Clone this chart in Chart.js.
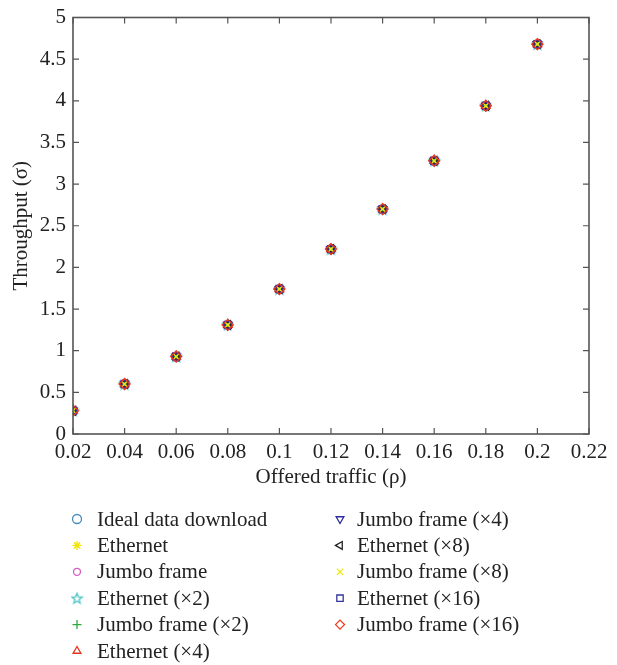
<!DOCTYPE html>
<html>
<head>
<meta charset="utf-8">
<script src="https://cdn.jsdelivr.net/npm/chart.js@4/dist/chart.umd.min.js"></script>
<style>
  html, body { margin: 0; padding: 0; background: #fff; }
  #wrap { width: 617px; height: 665px; }
</style>
</head>
<body>
<div id="wrap"><canvas id="throughput"></canvas></div>
<script>
// offered traffic (x)
const offeredTraffic = [0.02, 0.04, 0.06, 0.08, 0.1, 0.12, 0.14, 0.16, 0.18, 0.2];

// throughput per scheme, all curves sit on top of each other
const idealDownload  = [0.28, 0.60, 0.93, 1.31, 1.74, 2.22, 2.70, 3.28, 3.94, 4.68];
const ethernet       = [0.28, 0.60, 0.93, 1.31, 1.74, 2.22, 2.70, 3.28, 3.94, 4.68];
const jumbo          = [0.28, 0.60, 0.93, 1.31, 1.74, 2.22, 2.70, 3.28, 3.94, 4.68];
const ethernetX2     = [0.28, 0.60, 0.93, 1.31, 1.74, 2.22, 2.70, 3.28, 3.94, 4.68];
const jumboX2        = [0.28, 0.60, 0.93, 1.31, 1.74, 2.22, 2.70, 3.28, 3.94, 4.68];
const ethernetX4     = [0.28, 0.60, 0.93, 1.31, 1.74, 2.22, 2.70, 3.28, 3.94, 4.68];
const jumboX4        = [0.28, 0.60, 0.93, 1.31, 1.74, 2.22, 2.70, 3.28, 3.94, 4.68];
const ethernetX8     = [0.28, 0.60, 0.93, 1.31, 1.74, 2.22, 2.70, 3.28, 3.94, 4.68];
const jumboX8        = [0.28, 0.60, 0.93, 1.31, 1.74, 2.22, 2.70, 3.28, 3.94, 4.68];
const ethernetX16    = [0.28, 0.60, 0.93, 1.31, 1.74, 2.22, 2.70, 3.28, 3.94, 4.68];
const jumboX16       = [0.28, 0.60, 0.93, 1.31, 1.74, 2.22, 2.70, 3.28, 3.94, 4.68];

const seriesLabels = [
  'Ideal data download', 'Ethernet', 'Jumbo frame', 'Ethernet (\u00d72)',
  'Jumbo frame (\u00d72)', 'Ethernet (\u00d74)', 'Jumbo frame (\u00d74)', 'Ethernet (\u00d78)',
  'Jumbo frame (\u00d78)', 'Ethernet (\u00d716)', 'Jumbo frame (\u00d716)'
];
const seriesValues = [idealDownload, ethernet, jumbo, ethernetX2, jumboX2, ethernetX4,
  jumboX4, ethernetX8, jumboX8, ethernetX16, jumboX16];

const xTicks = { min: 0.02, max: 0.22, step: 0.02 };
const yTicks = { min: 0, max: 5, step: 0.5 };

const FONT = '"Liberation Serif", "Times New Roman", serif';
const FSIZE = 21;
const AXIS = '#555';

// five pointed star, chart.js has none
function pentagram(color) {
  const c = document.createElement('canvas');
  c.width = 13; c.height = 13;
  const g = c.getContext('2d');
  g.strokeStyle = color;
  g.lineWidth = 1.2;
  g.beginPath();
  for (let i = 0; i < 10; i++) {
    const r = i % 2 === 0 ? 5.5 : 2.3;
    const a = -Math.PI / 2 + i * Math.PI / 5;
    const px = 6.5 + r * Math.cos(a), py = 7 + r * Math.sin(a);
    if (i === 0) g.moveTo(px, py); else g.lineTo(px, py);
  }
  g.closePath();
  g.stroke();
  return c;
}

const styles = [
  { color: '#4a8bbd', style: 'circle', radius: 4.5 },
  { color: '#f2e400', style: 'star', radius: 5 },
  { color: '#d35fc4', style: 'circle', radius: 3.5 },
  { color: '#3fc0c4', style: pentagram('#3fc0c4'), radius: 5 },
  { color: '#2ea83a', style: 'cross', radius: 5 },
  { color: '#e8331c', style: 'triangle', radius: 5 },
  { color: '#2c2c9c', style: 'triangle', radius: 5, rotation: 180 },
  { color: '#222222', style: 'triangle', radius: 5, rotation: 270 },
  { color: '#eeea10', style: 'crossRot', radius: 4.5 },
  { color: '#34349a', style: 'rect', radius: 5 },
  { color: '#f2361a', style: 'rectRot', radius: 5.5 }
];

const datasets = seriesLabels.map((label, i) => ({
  label: label,
  data: offeredTraffic.map((x, k) => ({ x: x, y: seriesValues[i][k] })),
  showLine: false,
  pointStyle: styles[i].style,
  pointRadius: styles[i].radius,
  pointRotation: styles[i].rotation || 0,
  pointBorderColor: styles[i].color,
  pointBackgroundColor: 'rgba(0,0,0,0)',
  pointBorderWidth: 1.3,
  order: seriesLabels.length - i
}));

// box round the plot and inward tick marks like matlab
const boxPlugin = {
  id: 'box',
  afterDraw(chart) {
    const ctx = chart.ctx;
    const a = chart.chartArea;
    const x = chart.scales.x, y = chart.scales.y;
    ctx.save();
    ctx.strokeStyle = AXIS;
    ctx.lineWidth = 1.6;
    ctx.strokeRect(a.left, a.top, a.right - a.left, a.bottom - a.top);
    ctx.lineWidth = 1.2;
    ctx.beginPath();
    x.ticks.forEach(t => {
      const px = x.getPixelForValue(t.value);
      ctx.moveTo(px, a.bottom); ctx.lineTo(px, a.bottom - 6);
      ctx.moveTo(px, a.top); ctx.lineTo(px, a.top + 6);
    });
    y.ticks.forEach(t => {
      const py = y.getPixelForValue(t.value);
      ctx.moveTo(a.left, py); ctx.lineTo(a.left + 6, py);
      ctx.moveTo(a.right, py); ctx.lineTo(a.right - 6, py);
    });
    ctx.stroke();
    ctx.restore();
  }
};

// two column legend under the plot, filled column by column
const legendPlugin = {
  id: 'colLegend',
  afterDraw(chart) {
    const ctx = chart.ctx;
    const a = chart.chartArea;
    const perCol = 6;
    const rowH = 26.4;
    const cols = [{ mark: 77, text: 97 }, { mark: 340, text: 357 }];
    ctx.save();
    ctx.font = FSIZE + 'px ' + FONT;
    ctx.textBaseline = 'middle';
    chart.data.datasets.forEach((ds, i) => {
      const col = cols[Math.floor(i / perCol)];
      const py = a.bottom + 85 + (i % perCol) * rowH;
      ctx.strokeStyle = ds.pointBorderColor;
      ctx.fillStyle = 'rgba(0,0,0,0)';
      ctx.lineWidth = 1.3;
      Chart.helpers.drawPoint(ctx, {
        pointStyle: ds.pointStyle,
        rotation: ds.pointRotation,
        radius: Math.min(ds.pointRadius, 4.5),
        borderWidth: 1.3
      }, col.mark, py);
      ctx.fillStyle = '#222';
      ctx.fillText(ds.label, col.text, py + 1);
    });
    ctx.restore();
  }
};

new Chart(document.getElementById('throughput'), {
  type: 'scatter',
  data: { datasets: datasets },
  plugins: [boxPlugin, legendPlugin],
  options: {
    responsive: true,
    maintainAspectRatio: false,
    animation: false,
    layout: { padding: { left: 0, top: 15, right: 28, bottom: 175 } },
    plugins: { legend: { display: false }, tooltip: { enabled: false } },
    scales: {
      x: {
        type: 'linear',
        min: xTicks.min, max: xTicks.max,
        afterFit: s => { s.height = 56; },
        ticks: {
          stepSize: xTicks.step,
          color: '#222',
          padding: 8,
          maxRotation: 0,
          font: { family: FONT, size: FSIZE, lineHeight: 1 },
          callback: v => String(+v.toFixed(2))
        },
        grid: { display: false, drawTicks: false },
        border: { display: false },
        title: {
          display: true,
          text: 'Offered traffic (\u03c1)',
          color: '#222',
          font: { family: FONT, size: FSIZE },
          padding: { top: 0, bottom: 0 }
        }
      },
      y: {
        min: yTicks.min, max: yTicks.max,
        afterFit: s => { s.width = 73; },
        ticks: {
          stepSize: yTicks.step,
          color: '#222',
          padding: 7,
          font: { family: FONT, size: FSIZE, lineHeight: 1 },
          callback: v => String(+v.toFixed(1))
        },
        grid: { display: false, drawTicks: false },
        border: { display: false },
        title: {
          display: true,
          text: 'Throughput (\u03c3)',
          color: '#222',
          font: { family: FONT, size: FSIZE },
          padding: { top: 9, bottom: 0 }
        }
      }
    }
  }
});
</script>
</body>
</html>
